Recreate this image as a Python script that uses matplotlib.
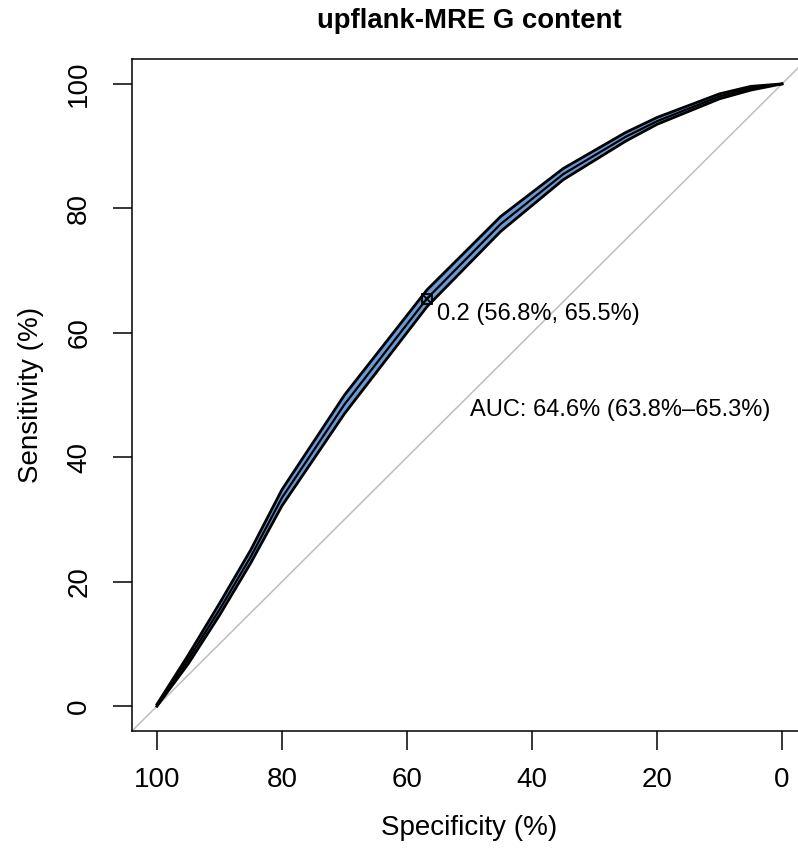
"""ROC curve of upflank-MRE G content, with the sensitivity confidence band."""
import matplotlib
matplotlib.use("Agg")
import matplotlib.pyplot as plt

plt.rcParams["font.family"] = ["Liberation Sans", "DejaVu Sans"]

# ROC curve (percent)
spec = [100, 95, 90, 85, 80, 70, 56.8, 45, 35, 25, 20, 10, 5, 0]
sens = [0, 7.5, 15.5, 24.0, 33.5, 48.5, 65.5, 77.5, 85.5, 91.5, 94.0, 98.0, 99.3, 100]
# confidence band on sensitivity at the same specificities
sens_lo = [0, 6.8, 14.6, 23.0, 32.2, 47.0, 64.2, 76.3, 84.6, 90.8, 93.5, 97.6, 99.0, 100]
sens_hi = [0.3, 8.2, 16.5, 25.1, 34.8, 50.0, 66.9, 78.7, 86.4, 92.2, 94.6, 98.4, 99.6, 100]

thres_label = "0.2"
thres_spec, thres_sens = 56.8, 65.5
auc, auc_lo, auc_hi = 64.6, 63.8, 65.3
ticks = [100, 80, 60, 40, 20, 0]

band_col = "#6b9bd6"

fig = plt.figure(figsize=(7.98, 8.57), dpi=100)
# the right edge of the frame lies just outside the picture, as in the reference
ax = fig.add_axes([132 / 798, 126 / 857, 675 / 798, 672 / 857])

ax.set_xlim(104, -4)
ax.set_ylim(-4, 104)

# chance diagonal
ax.axline((100, 0), (0, 100), color="#bebebe", lw=1.1, zorder=1)

# confidence band with black borders
ax.fill_between(spec, sens_lo, sens_hi, color=band_col, lw=0, zorder=2)
ax.plot(spec, sens_lo, color="black", lw=2.0, zorder=3)
ax.plot(spec, sens_hi, color="black", lw=2.0, zorder=3)
# ROC curve itself
ax.plot(spec, sens, color="black", lw=1.6, zorder=4)

# best threshold
ax.plot(thres_spec, thres_sens, marker="s", ms=6.5, mfc="none", mec="black",
        mew=1.3, zorder=5)
ax.plot(thres_spec, thres_sens, marker="x", ms=6.5, mec="black", mew=1.3, zorder=5)
ax.annotate(f"{thres_label} ({thres_spec:.1f}%, {thres_sens:.1f}%)",
            (thres_spec, thres_sens), xytext=(7, -11), textcoords="offset points",
            ha="left", va="center", fontsize=17)

ax.text(50, 49.3, f"AUC: {auc:.1f}% ({auc_lo:.1f}%\u2013{auc_hi:.1f}%)",
        ha="left", va="top", fontsize=17)

ax.set_xticks(ticks)
ax.set_xticklabels([str(t) for t in ticks])
ax.set_yticks(ticks)
ax.set_yticklabels([str(t) for t in ticks], rotation=90, va="center")
ax.tick_params(axis="both", length=13.7, width=1.1, labelsize=20)
ax.tick_params(axis="x", pad=12)
ax.tick_params(axis="y", pad=15)

for s in ax.spines.values():
    s.set_linewidth(1.1)

ax.set_xlabel("Specificity (%)", fontsize=20, labelpad=16)
ax.set_ylabel("Sensitivity (%)", fontsize=20, labelpad=16)
ax.set_title("upflank-MRE G content", fontsize=19.8, fontweight="bold", pad=22)

fig.savefig("out.png", dpi=100)
